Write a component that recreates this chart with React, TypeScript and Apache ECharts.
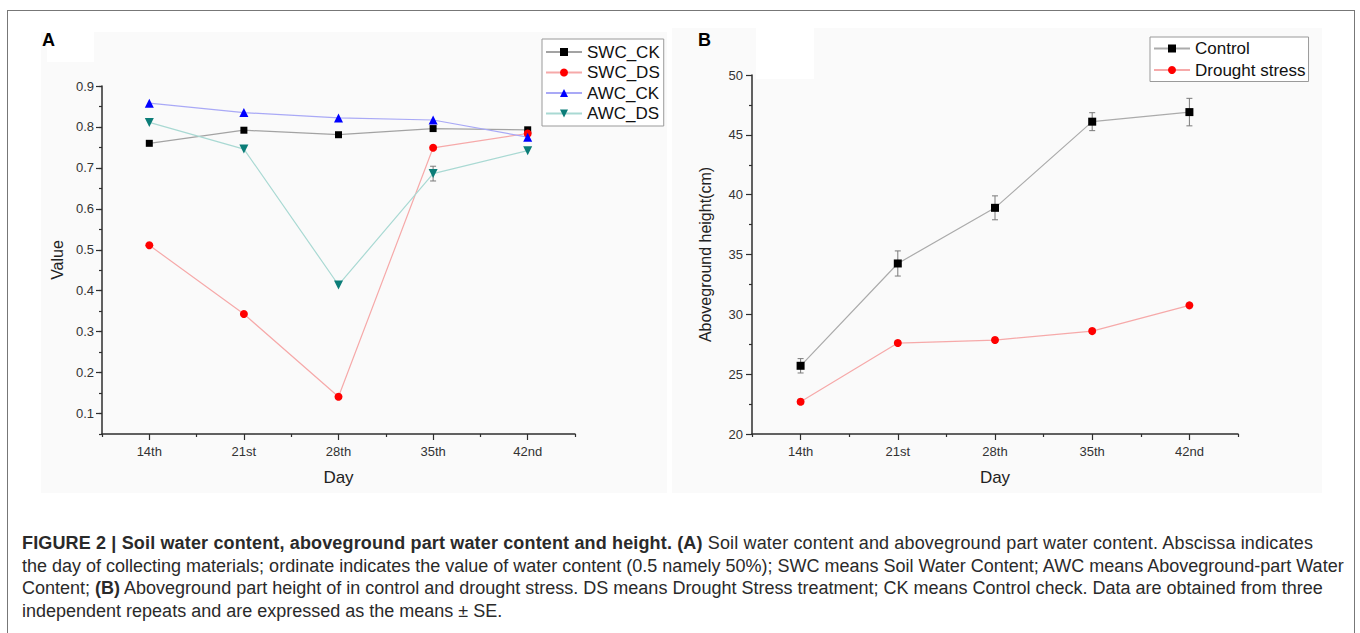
import React, { useEffect, useRef } from "react";
import * as echarts from "echarts";

const days = ["14th", "21st", "28th", "35th", "42nd"];

// Panel A – water content
const swcCK = [0.76, 0.792, 0.781, 0.796, 0.793];
const swcDS = [0.511, 0.343, 0.141, 0.749, 0.784];
const awcCK = [0.858, 0.835, 0.822, 0.817, 0.775];
const awcDS = [0.811, 0.746, 0.414, 0.686, 0.742];
const awcDSErr = [0, 0, 0, 0.018, 0];
const yLabelsA = [0.1, 0.2, 0.3, 0.4, 0.5, 0.6, 0.7, 0.8, 0.9];

// Panel B – aboveground height
const controlH = [25.7, 34.25, 38.9, 46.1, 46.9];
const controlErr = [0.6, 1.05, 1.0, 0.75, 1.15];
const droughtH = [22.7, 27.6, 27.85, 28.6, 30.75];
const droughtErr = [0.2, 0.2, 0.2, 0.2, 0.2];

const FONT = "'Liberation Sans', Arial, sans-serif";
const AXIS_COLOR = "#2e2e2e";

const renderErr = (_params: any, api: any) => {
  const i = api.value(0);
  const v = api.value(1);
  const e = api.value(2);
  if (!e) return { type: "group", children: [] };
  const hi = api.coord([i, v + e]);
  const lo = api.coord([i, v - e]);
  const w = 3;
  const style = { stroke: "#7a7a7a", lineWidth: 1 };
  return {
    type: "group",
    children: [
      { type: "line", shape: { x1: hi[0], y1: hi[1], x2: lo[0], y2: lo[1] }, style },
      { type: "line", shape: { x1: hi[0] - w, y1: hi[1], x2: hi[0] + w, y2: hi[1] }, style },
      { type: "line", shape: { x1: lo[0] - w, y1: lo[1], x2: lo[0] + w, y2: lo[1] }, style },
    ],
  };
};

const axisLine = { lineStyle: { color: AXIS_COLOR, width: 1.5 } };
const tickStyle = { color: AXIS_COLOR, width: 1.2 };
const labelStyle = { color: "#333", fontSize: 13, fontFamily: FONT };
const nameStyle = { color: "#222", fontSize: 17, fontFamily: FONT };

function mainX(gridIndex: number) {
  return {
    type: "category",
    gridIndex,
    data: days,
    boundaryGap: true,
    axisLine,
    axisTick: { show: true, length: 3, lineStyle: tickStyle },
    axisLabel: { ...labelStyle, margin: 11 },
    splitLine: { show: false },
    name: "Day",
    nameLocation: "middle",
    nameGap: 35,
    nameTextStyle: nameStyle,
  };
}
function tickX(gridIndex: number) {
  return {
    type: "category",
    gridIndex,
    data: days,
    position: "bottom",
    boundaryGap: true,
    axisLine: { show: false },
    axisTick: { show: true, alignWithLabel: true, length: 6, lineStyle: tickStyle },
    axisLabel: { show: false },
    splitLine: { show: false },
  };
}

const legendBase = {
  orient: "vertical",
  itemWidth: 36,
  itemHeight: 10,
  itemGap: 3.5,
  borderColor: "#9a9a9a",
  borderWidth: 1,
  backgroundColor: "#ffffff",
  textStyle: { fontSize: 17, color: "#111", fontFamily: FONT, lineHeight: 17 },
};

const option: any = {
  animation: false,
  textStyle: { fontFamily: FONT },
  graphic: [
    { type: "rect", z: -10, shape: { x: 41, y: 32, width: 626, height: 461 }, style: { fill: "#fafafa" } },
    { type: "rect", z: -9, shape: { x: 47, y: 32, width: 47, height: 30 }, style: { fill: "#ffffff" } },
    { type: "rect", z: -10, shape: { x: 672, y: 28, width: 650, height: 465 }, style: { fill: "#fafafa" } },
    { type: "rect", z: -9, shape: { x: 756, y: 28, width: 58, height: 51 }, style: { fill: "#ffffff" } },
    { type: "text", z: 100, x: 42, y: 40, style: { text: "A", fontSize: 18, fontWeight: "bold", fill: "#000", fontFamily: FONT, verticalAlign: "middle" } },
    { type: "text", z: 100, x: 698, y: 40, style: { text: "B", fontSize: 18, fontWeight: "bold", fill: "#000", fontFamily: FONT, verticalAlign: "middle" } },
  ],
  grid: [
    { left: 102, top: 86, width: 473, height: 348 },
    { left: 752, top: 75, width: 486, height: 359 },
  ],
  legend: [
    {
      ...legendBase,
      data: ["SWC_CK", "SWC_DS", "AWC_CK", "AWC_DS"],
      left: 542,
      top: 39,
      padding: [4.5, 4, 4, 3],
    },
    {
      ...legendBase,
      data: ["Control", "Drought stress"],
      left: 1150,
      top: 37,
      itemGap: 4.5,
      padding: [3, 3, 3, 3],
    },
  ],
  xAxis: [mainX(0), tickX(0), mainX(1), tickX(1)],
  yAxis: [
    {
      type: "value",
      gridIndex: 0,
      min: 0.05,
      max: 0.9,
      interval: 0.05,
      axisLine: { show: true, ...axisLine },
      axisTick: { show: true, length: 3, lineStyle: tickStyle },
      axisLabel: {
        ...labelStyle,
        margin: 8,
        formatter: (v: number) => (Math.round(v * 100) % 10 === 0 ? v.toFixed(1) : ""),
      },
      splitLine: { show: false },
      name: "Value",
      nameLocation: "middle",
      nameGap: 37,
      nameTextStyle: { ...nameStyle, fontSize: 16 },
    },
    {
      type: "value",
      gridIndex: 0,
      min: 0.05,
      max: 0.9,
      position: "left",
      axisLine: { show: false },
      axisTick: { show: true, length: 6, lineStyle: tickStyle, customValues: yLabelsA },
      axisLabel: { show: false },
      splitLine: { show: false },
    },
    {
      type: "value",
      gridIndex: 1,
      min: 20,
      max: 50,
      interval: 5,
      axisLine: { show: true, ...axisLine },
      axisTick: { show: true, length: 6, lineStyle: tickStyle },
      minorTick: { show: true, splitNumber: 2, length: 3, lineStyle: tickStyle },
      axisLabel: { ...labelStyle, margin: 9 },
      splitLine: { show: false },
      name: "Aboveground height(cm)",
      nameLocation: "middle",
      nameGap: 39,
      nameTextStyle: { ...nameStyle, fontSize: 16 },
    },
  ],
  series: [
    {
      type: "line",
      name: "SWC_CK",
      xAxisIndex: 0,
      yAxisIndex: 0,
      data: swcCK,
      symbol: "rect",
      symbolSize: 7,
      itemStyle: { color: "#000000" },
      lineStyle: { color: "#a3a3a3", width: 1.2 },
    },
    {
      type: "line",
      name: "SWC_DS",
      xAxisIndex: 0,
      yAxisIndex: 0,
      data: swcDS,
      symbol: "circle",
      symbolSize: 8,
      itemStyle: { color: "#ff0000" },
      lineStyle: { color: "#f6a9a9", width: 1.2 },
    },
    {
      type: "line",
      name: "AWC_CK",
      xAxisIndex: 0,
      yAxisIndex: 0,
      data: awcCK,
      symbol: "triangle",
      symbolSize: 9,
      itemStyle: { color: "#0000ff" },
      lineStyle: { color: "#a9a9f6", width: 1.2 },
    },
    {
      type: "line",
      name: "AWC_DS",
      xAxisIndex: 0,
      yAxisIndex: 0,
      data: awcDS,
      symbol: "triangle",
      symbolRotate: 180,
      symbolSize: 9,
      itemStyle: { color: "#0b7d78" },
      lineStyle: { color: "#a9d9d3", width: 1.2 },
    },
    {
      type: "custom",
      xAxisIndex: 0,
      yAxisIndex: 0,
      z: 1,
      renderItem: renderErr,
      data: days.map((_, i) => [i, awcDS[i], awcDSErr[i]]),
    },
    {
      type: "custom",
      xAxisIndex: 2,
      yAxisIndex: 2,
      z: 1,
      renderItem: renderErr,
      data: days.map((_, i) => [i, controlH[i], controlErr[i]]),
    },
    {
      type: "custom",
      xAxisIndex: 2,
      yAxisIndex: 2,
      z: 1,
      renderItem: renderErr,
      data: days.map((_, i) => [i, droughtH[i], droughtErr[i]]),
    },
    {
      type: "line",
      name: "Control",
      xAxisIndex: 2,
      yAxisIndex: 2,
      data: controlH,
      symbol: "rect",
      symbolSize: 8,
      itemStyle: { color: "#000000" },
      lineStyle: { color: "#ababab", width: 1.2 },
    },
    {
      type: "line",
      name: "Drought stress",
      xAxisIndex: 2,
      yAxisIndex: 2,
      data: droughtH,
      symbol: "circle",
      symbolSize: 8,
      itemStyle: { color: "#ff0000" },
      lineStyle: { color: "#f6a9a9", width: 1.2 },
    },
  ],
};

export default function App() {
  const ref = useRef<HTMLDivElement>(null);
  useEffect(() => {
    const chart = echarts.init(ref.current!, null, { renderer: "svg" });
    chart.setOption(option);
    return () => chart.dispose();
  }, []);
  return (
    <div
      style={{
        position: "fixed",
        left: 0,
        top: 0,
        width: 1360,
        height: 633,
        background: "#fff",
        overflow: "hidden",
        fontFamily: FONT,
      }}
    >
      <div ref={ref} style={{ position: "absolute", left: 0, top: 0, width: 1360, height: 500 }} />
      <div
        style={{
          position: "absolute",
          left: 7,
          top: 10,
          width: 1346,
          height: 700,
          border: "1.5px solid #777",
          pointerEvents: "none",
        }}
      />
      <div
        style={{
          position: "absolute",
          left: 22,
          top: 532,
          fontSize: 18,
          lineHeight: "22.6px",
          color: "#2a2a2a",
          whiteSpace: "nowrap",
        }}
      >
        <div style={{ letterSpacing: "0.15px" }}>
          <b>FIGURE 2 | Soil water content, aboveground part water content and height. (A)</b> Soil water content and
          aboveground part water content. Abscissa indicates
        </div>
        <div>
          the day of collecting materials; ordinate indicates the value of water content (0.5 namely 50%); SWC means Soil
          Water Content; AWC means Aboveground-part Water
        </div>
        <div>
          Content; <b>(B)</b> Aboveground part height of in control and drought stress. DS means Drought Stress treatment;
          CK means Control check. Data are obtained from three
        </div>
        <div>independent repeats and are expressed as the means ± SE.</div>
      </div>
    </div>
  );
}
